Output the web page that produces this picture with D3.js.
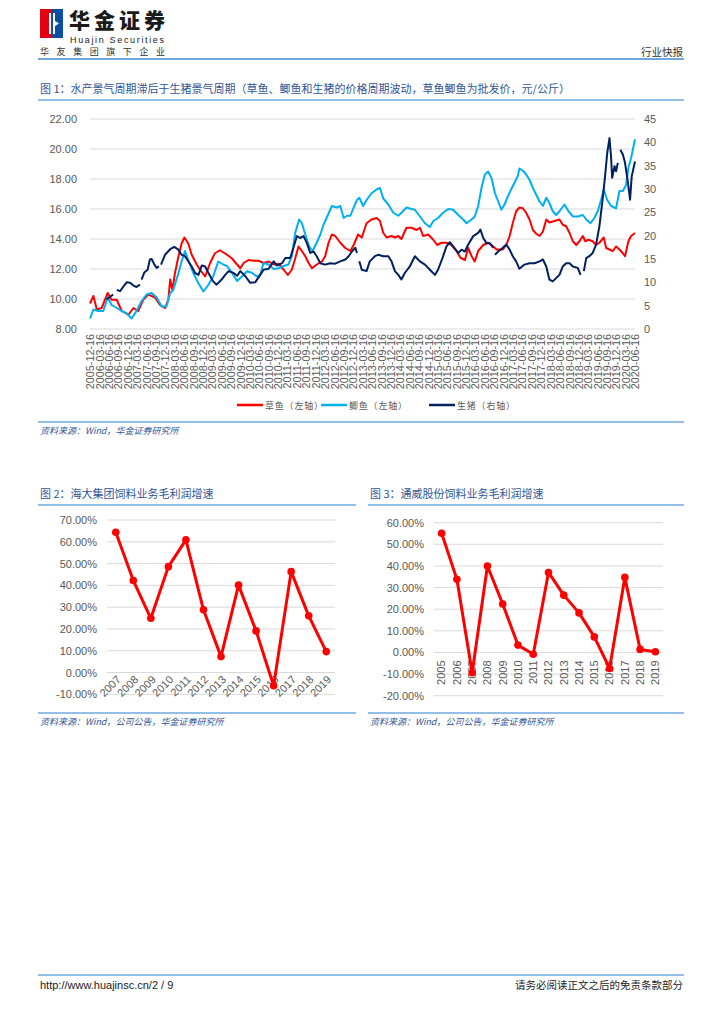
<!DOCTYPE html>
<html>
<head>
<meta charset="utf-8">
<script src="https://cdn.jsdelivr.net/npm/d3@7/dist/d3.min.js"></script>
<style>
  body { margin: 0; background: #fff; }
  svg { display: block; }
  text { font-family: "Liberation Sans", "Noto Sans CJK SC", sans-serif; }
  .cjk { font-family: "Noto Sans CJK SC", sans-serif; }
</style>
</head>
<body>
<svg id="page" width="724" height="1024"></svg>
<script>
// ---- chart 1 data: weekly prices (null = gap in series)
var grassCarp = [
  ["2005-12-16",9.7],["2006-01-18",10.2],["2006-02-20",9.3],["2006-04-08",9.4],["2006-06-06",10.4],["2006-07-14",9.95],
  ["2006-09-02",9.95],["2006-10-20",9.2],["2006-12-24",8.95],["2007-02-11",9.4],["2007-03-29",9.2],["2007-05-17",9.95],
  ["2007-07-05",10.3],["2007-09-09",10.1],["2007-10-27",9.6],["2007-12-15",9.4],["2008-01-16",9.95],["2008-02-03",11.3],
  ["2008-02-25",10.6],["2008-03-20",11.7],["2008-04-22",12.8],["2008-05-24",13.7],["2008-06-20",14.1],["2008-07-28",13.7],
  ["2008-08-30",12.95],["2008-10-18",12.3],["2008-11-20",11.95],["2009-01-08",11.5],["2009-02-25",12.4],["2009-04-13",13.05],
  ["2009-06-01",13.25],["2009-08-08",12.95],["2009-09-26",12.7],["2009-11-14",12.3],["2009-12-16",12.05],["2010-01-17",12.4],
  ["2010-03-05",12.6],["2010-04-23",12.55],["2010-06-11",12.55],["2010-07-29",12.4],["2010-09-17",12.5],["2010-11-05",12.3],
  ["2010-12-23",12.35],["2011-02-10",11.95],["2011-03-22",11.6],["2011-04-30",11.95],["2011-06-02",12.7],["2011-07-04",13.5],
  ["2011-08-06",13.2],["2011-09-08",12.85],["2011-10-10",12.4],["2011-11-12",12.05],["2011-12-28",12.3],["2012-02-17",12.5],
  ["2012-03-19",12.85],["2012-04-21",13.75],["2012-05-23",14.3],["2012-06-25",14.2],["2012-08-13",13.75],["2012-10-01",13.4],
  ["2012-11-19",13.2],["2012-12-21",13.6],["2013-02-02",14.3],["2013-03-10",14.1],["2013-04-25",15.05],["2013-06-13",15.3],
  ["2013-08-01",15.4],["2013-09-03",15.2],["2013-10-05",14.4],["2013-11-07",14.1],["2013-12-24",14.2],["2014-01-26",14.1],
  ["2014-02-28",14.2],["2014-03-30",14.0],["2014-05-18",14.75],["2014-07-06",14.75],["2014-08-24",14.6],["2014-09-26",14.75],
  ["2014-10-28",14.2],["2014-12-15",14.3],["2015-02-03",13.95],["2015-03-12",13.6],["2015-04-23",13.75],["2015-06-11",13.75],
  ["2015-07-29",13.6],["2015-09-17",13.2],["2015-10-25",12.75],["2015-12-07",12.6],["2016-01-08",13.4],["2016-02-10",12.85],
  ["2016-03-12",12.5],["2016-04-14",13.2],["2016-06-02",13.6],["2016-07-20",13.75],["2016-09-08",13.5],["2016-10-10",13.3],
  ["2016-12-10",13.3],["2017-01-12",13.6],["2017-02-14",14.2],["2017-03-16",15.05],["2017-04-18",15.85],["2017-05-20",16.1],
  ["2017-06-22",16.05],["2017-07-24",15.75],["2017-08-26",15.3],["2017-09-28",14.6],["2017-10-30",14.35],["2017-12-02",14.2],
  ["2018-01-03",14.5],["2018-02-05",15.3],["2018-03-07",15.1],["2018-04-25",15.2],["2018-06-13",15.3],["2018-07-15",14.95],
  ["2018-08-17",14.85],["2018-09-19",14.4],["2018-10-21",13.85],["2018-11-23",13.6],["2018-12-24",13.85],["2019-01-26",14.2],
  ["2019-02-19",13.85],["2019-03-20",13.95],["2019-05-02",13.85],["2019-06-04",13.6],["2019-07-06",13.75],["2019-08-17",14.1],
  ["2019-09-10",13.4],["2019-10-12",13.3],["2019-11-14",13.2],["2019-12-15",13.5],["2020-01-17",13.3],["2020-02-19",13.05],
  ["2020-03-11",12.85],["2020-04-13",13.85],["2020-05-09",14.2],["2020-06-16",14.4]
];
var crucianCarp = [
  ["2005-12-16",8.7],["2006-01-18",9.3],["2006-03-06",9.2],["2006-04-24",9.2],["2006-06-06",10.1],["2006-07-14",9.6],
  ["2006-09-02",9.4],["2006-10-20",9.2],["2006-12-07",9.05],["2007-01-25",8.7],["2007-03-13",9.2],["2007-05-01",9.85],
  ["2007-06-19",10.3],["2007-08-07",10.4],["2007-09-25",10.1],["2007-11-12",9.5],["2007-12-29",9.5],["2008-02-03",10.4],
  ["2008-03-04",10.6],["2008-04-22",11.7],["2008-05-24",12.5],["2008-06-26",13.2],["2008-07-28",12.6],["2008-09-16",11.7],
  ["2008-11-04",11.05],["2008-12-22",10.5],["2009-02-09",10.95],["2009-03-27",11.5],["2009-05-15",12.5],["2009-07-03",12.3],
  ["2009-08-08",12.2],["2009-09-26",11.75],["2009-11-14",11.2],["2010-01-01",11.5],["2010-02-19",11.85],["2010-04-07",11.75],
  ["2010-05-25",11.5],["2010-06-27",11.6],["2010-07-29",12.4],["2010-09-17",12.3],["2010-11-05",12.0],["2010-12-23",12.05],
  ["2011-02-10",12.2],["2011-03-28",12.3],["2011-04-30",12.85],["2011-06-02",14.4],["2011-07-10",15.3],["2011-08-06",15.05],
  ["2011-09-08",14.3],["2011-10-16",13.5],["2011-11-18",13.2],["2011-12-28",13.75],["2012-02-01",14.3],["2012-03-03",14.95],
  ["2012-04-15",15.6],["2012-05-23",16.2],["2012-07-11",16.1],["2012-08-13",16.2],["2012-09-15",15.4],["2012-10-17",15.55],
  ["2012-11-19",15.55],["2012-12-21",16.1],["2013-01-22",16.6],["2013-02-14",16.75],["2013-03-10",16.4],["2013-03-23",16.2],
  ["2013-04-25",16.6],["2013-06-13",17.05],["2013-08-01",17.3],["2013-09-03",17.4],["2013-10-05",16.7],["2013-11-23",16.3],
  ["2014-01-10",15.75],["2014-02-28",15.55],["2014-03-30",15.75],["2014-05-18",16.1],["2014-07-06",16.0],["2014-08-08",15.95],
  ["2014-09-26",15.5],["2014-11-14",15.05],["2015-01-01",14.8],["2015-02-03",15.2],["2015-03-21",15.4],["2015-05-09",15.75],
  ["2015-06-27",16.0],["2015-08-15",15.95],["2015-10-03",15.6],["2015-11-21",15.3],["2015-12-23",15.05],["2016-02-10",15.3],
  ["2016-03-12",15.5],["2016-04-14",16.2],["2016-05-16",17.4],["2016-06-18",18.3],["2016-07-20",18.5],["2016-08-22",18.05],
  ["2016-09-24",17.05],["2016-10-26",16.5],["2016-11-25",15.95],["2016-12-26",16.3],["2017-01-28",16.85],["2017-02-28",17.3],
  ["2017-04-02",17.75],["2017-05-04",18.2],["2017-05-20",18.7],["2017-06-22",18.55],["2017-07-24",18.3],["2017-08-26",17.95],
  ["2017-09-28",17.4],["2017-10-30",16.95],["2017-12-02",16.5],["2018-01-03",16.2],["2018-02-05",16.75],["2018-03-07",16.4],
  ["2018-04-09",15.85],["2018-05-11",15.6],["2018-06-13",15.85],["2018-08-01",16.3],["2018-09-09",15.85],["2018-10-21",15.5],
  ["2018-12-08",15.5],["2019-01-26",15.6],["2019-02-28",15.3],["2019-04-10",15.05],["2019-05-18",15.4],["2019-06-20",15.85],
  ["2019-07-22",16.6],["2019-08-17",17.3],["2019-09-20",16.6],["2019-10-28",16.2],["2019-12-15",16.05],["2020-01-17",17.2],
  ["2020-02-19",17.2],["2020-03-21",17.6],["2020-04-13",18.75],["2020-05-09",19.4],["2020-06-16",20.65]
];
var hog = [
  ["2006-05-26",6.3],["2006-06-28",6.9],["2006-07-30",7.4],["2006-08-15",null],["2006-09-02",8.4],["2006-10-04",8.1],
  ["2006-11-06",9.1],["2006-12-07",10.0],["2007-01-10",9.9],["2007-02-11",9.3],["2007-03-13",9.0],["2007-04-15",9.5],
  ["2007-04-22",null],["2007-05-01",10.6],["2007-05-27",12.1],["2007-06-29",12.7],["2007-07-21",14.9],["2007-08-07",15.0],
  ["2007-09-03",13.8],["2007-09-25",13.1],["2007-10-17",13.4],["2007-10-25",null],["2007-11-06",13.8],["2007-12-15",15.9],
  ["2008-02-03",17.1],["2008-03-14",17.6],["2008-04-22",17.0],["2008-05-24",15.9],["2008-06-26",15.6],["2008-07-28",14.5],
  ["2008-08-30",13.4],["2008-10-02",12.0],["2008-11-04",11.6],["2008-12-06",13.6],["2009-01-08",13.4],["2009-02-09",12.0],
  ["2009-03-27",10.2],["2009-04-29",9.5],["2009-06-17",10.6],["2009-07-22",11.6],["2009-08-24",12.4],["2009-10-12",12.0],
  ["2009-11-14",11.4],["2009-12-16",12.4],["2010-02-03",11.3],["2010-03-22",9.9],["2010-05-09",10.0],["2010-06-27",11.6],
  ["2010-07-29",12.7],["2010-09-17",12.9],["2010-11-05",14.5],["2010-12-07",13.6],["2011-01-25",14.1],["2011-02-26",15.2],
  ["2011-04-14",15.2],["2011-05-16",17.4],["2011-06-18",19.9],["2011-07-20",19.5],["2011-08-22",19.9],["2011-09-24",18.4],
  ["2011-10-26",16.3],["2011-11-28",16.6],["2011-12-28",15.6],["2012-02-01",14.1],["2012-03-19",13.8],["2012-05-07",14.1],
  ["2012-06-25",14.0],["2012-08-13",14.5],["2012-10-01",14.9],["2012-11-03",15.6],["2012-12-04",16.6],["2013-01-07",17.4],
  ["2013-01-22",16.3],["2013-02-01",null],["2013-02-14",14.5],["2013-03-10",12.7],["2013-04-25",12.4],["2013-05-27",14.5],
  ["2013-07-15",15.6],["2013-08-17",15.9],["2013-10-05",15.6],["2013-11-23",15.6],["2013-12-24",14.5],["2014-01-26",12.4],
  ["2014-02-28",11.6],["2014-03-30",10.6],["2014-05-02",12.0],["2014-06-20",13.4],["2014-08-08",15.6],["2014-09-26",14.5],
  ["2014-11-14",13.8],["2015-01-01",12.7],["2015-02-19",11.6],["2015-03-21",12.7],["2015-05-03",15.2],["2015-06-11",17.7],
  ["2015-07-13",18.6],["2015-08-15",17.7],["2015-10-03",16.3],["2015-11-05",17.0],["2015-12-07",16.6],["2016-01-08",18.1],
  ["2016-02-26",19.9],["2016-04-14",20.6],["2016-05-06",21.3],["2016-06-02",19.5],["2016-07-04",18.4],["2016-08-05",18.4],
  ["2016-09-08",17.4],["2016-09-16",null],["2016-09-24",15.9],["2016-10-26",16.6],["2016-12-10",17.4],["2017-01-12",18.1],
  ["2017-02-14",17.0],["2017-03-16",15.6],["2017-04-18",14.5],["2017-05-20",12.9],["2017-07-08",13.8],["2017-08-26",14.1],
  ["2017-10-14",14.1],["2017-12-02",14.5],["2018-01-03",14.9],["2018-02-05",13.4],["2018-03-07",10.6],["2018-04-09",10.2],
  ["2018-05-11",10.9],["2018-06-13",11.6],["2018-07-15",13.4],["2018-08-17",14.1],["2018-09-19",14.1],["2018-10-21",13.4],
  ["2018-12-08",13.1],["2019-01-04",11.6],["2019-01-20",null],["2019-02-05",12.4],["2019-02-28",15.2],["2019-03-30",15.6],
  ["2019-05-02",16.3],["2019-06-04",18.1],["2019-07-06",22.0],["2019-08-08",28.1],["2019-08-30",32.7],["2019-09-20",37.7],
  ["2019-10-12",40.9],["2019-10-27",37.0],["2019-11-07",32.4],["2019-11-30",34.9],["2019-12-15",33.8],["2020-01-01",35.6],
  ["2020-01-12",null],["2020-01-26",38.4],["2020-02-19",37.4],["2020-03-11",35.6],["2020-04-07",31.6],["2020-04-29",27.7],
  ["2020-05-15",32.7],["2020-06-16",35.9]
];
var leftTicks = [8, 10, 12, 14, 16, 18, 20, 22];
var rightTicks = [0, 5, 10, 15, 20, 25, 30, 35, 40, 45];
var seriesNames = ["草鱼（左轴）", "鲫鱼（左轴）", "生猪（右轴）"];

// ---- chart 2 / chart 3 data (%)
var haidaYears = ["2007","2008","2009","2010","2011","2012","2013","2014","2015","2016","2017","2018","2019"];
var haidaGrowth = [64.4, 42.2, 24.9, 48.6, 60.9, 28.8, 7.3, 40.1, 19.1, -6.1, 46.3, 26.0, 9.6];
var haidaTicks = [-10, 0, 10, 20, 30, 40, 50, 60, 70];
var tongweiYears = ["2005","2006","2007","2008","2009","2010","2011","2012","2013","2014","2015","2016","2017","2018","2019"];
var tongweiGrowth = [55.1, 33.8, -9.4, 40.0, 22.4, 3.4, -0.8, 37.0, 26.5, 18.3, 7.2, -7.4, 34.7, 1.4, 0.3];
var tongweiTicks = [-20, -10, 0, 10, 20, 30, 40, 50, 60];

var parseDate = d3.timeParse("%Y-%m-%d");
var xStart = parseDate("2005-12-16");
var xTickDates = d3.range(59).map(function(i) { return d3.timeMonth.offset(xStart, 3 * i); });

var blue = "#2F5597", rule = "#6FA8DC", grid = "#D9D9D9", gray = "#595959";
var svg = d3.select("#page");

// ---- page header
var logo = svg.append("g");
logo.append("rect").attr("x", 40).attr("y", 9).attr("width", 12).attr("height", 29).attr("fill", "#E60012");
logo.append("rect").attr("x", 52).attr("y", 9).attr("width", 11).attr("height", 29).attr("fill", "#0B4EA2");
logo.append("rect").attr("x", 49).attr("y", 13).attr("width", 2).attr("height", 21).attr("fill", "#fff");
logo.append("path").attr("d", "M53,13 L55,13 L55,21 L59,23.5 L55,26 L55,34 L53,34 Z").attr("fill", "#fff");
svg.append("text").attr("class", "cjk").attr("x", 69).attr("y", 28).attr("font-size", 21).attr("font-weight", 900)
  .attr("fill", "#1a1a1a").attr("textLength", 96).text("华金证券");
svg.append("text").attr("x", 70).attr("y", 42.5).attr("font-size", 9).attr("fill", "#1a1a1a")
  .attr("textLength", 94).text("Huajin Securities");
svg.append("text").attr("class", "cjk").attr("x", 40).attr("y", 55).attr("font-size", 9).attr("fill", "#333")
  .attr("textLength", 125).attr("lengthAdjust", "spacing").text("华友集团旗下企业");
svg.append("text").attr("class", "cjk").attr("x", 683).attr("y", 56).attr("font-size", 10.5).attr("fill", "#333")
  .attr("text-anchor", "end").text("行业快报");
svg.append("line").attr("x1", 38).attr("x2", 684).attr("y1", 59).attr("y2", 59).attr("stroke", rule).attr("stroke-width", 2);

function titleBlock(x1, x2, y, label) {
  svg.append("text").attr("class", "cjk").attr("x", x1 + 2).attr("y", y).attr("font-size", 11)
    .attr("fill", blue).text(label);
  svg.append("line").attr("x1", x1).attr("x2", x2).attr("y1", y + 7).attr("y2", y + 7)
    .attr("stroke", rule).attr("stroke-width", 1.5);
}
function sourceBlock(x1, x2, y, label) {
  svg.append("line").attr("x1", x1).attr("x2", x2).attr("y1", y).attr("y2", y)
    .attr("stroke", rule).attr("stroke-width", 1.5);
  svg.append("text").attr("class", "cjk").attr("x", x1 + 2).attr("y", y + 12).attr("font-size", 9)
    .attr("font-style", "italic").attr("fill", blue).text(label);
}

// ---- chart 1
titleBlock(38, 684, 93, "图 1：水产景气周期滞后于生猪景气周期（草鱼、鲫鱼和生猪的价格周期波动，草鱼鲫鱼为批发价，元/公斤）");

var x1 = d3.scaleTime().domain([xStart, parseDate("2020-06-16")]).range([90, 635]);
var yL = d3.scaleLinear().domain([8, 22]).range([329, 119]);
var yR = d3.scaleLinear().domain([0, 45]).range([329, 119]);
var c1 = svg.append("g");

c1.selectAll(".grid").data(leftTicks).enter().append("line")
  .attr("x1", 90).attr("x2", 635).attr("y1", function(d) { return yL(d); }).attr("y2", function(d) { return yL(d); })
  .attr("stroke", grid).attr("stroke-width", 1);

var axL = c1.append("g").attr("transform", "translate(90,0)")
  .call(d3.axisLeft(yL).tickValues(leftTicks).tickFormat(d3.format(".2f")).tickSize(0).tickPadding(13));
var axR = c1.append("g").attr("transform", "translate(635,0)")
  .call(d3.axisRight(yR).tickValues(rightTicks).tickSize(0).tickPadding(9));
[axL, axR].forEach(function(a) {
  a.select(".domain").remove();
  a.selectAll("text").attr("font-size", 11).attr("fill", gray).attr("font-family", "Liberation Sans, sans-serif");
});

var axX = c1.append("g").attr("transform", "translate(0,331)")
  .call(d3.axisBottom(x1).tickValues(xTickDates).tickFormat(d3.timeFormat("%Y-%m-%d")).tickSize(0));
axX.select(".domain").remove();
axX.selectAll("text").attr("transform", "rotate(-90)").attr("x", -3).attr("y", 0).attr("dy", "0.35em")
  .style("text-anchor", "end").attr("font-size", 10.8).attr("fill", gray).attr("font-family", "Liberation Sans, sans-serif");

function priceLine(yScale) {
  return d3.line()
    .defined(function(d) { return d[1] != null; })
    .x(function(d) { return x1(parseDate(d[0])); })
    .y(function(d) { return yScale(d[1]); });
}
var series1 = [
  {data: grassCarp, y: yL, color: "#FF0000"},
  {data: crucianCarp, y: yL, color: "#00B0F0"},
  {data: hog, y: yR, color: "#002060"}
];
series1.forEach(function(s) {
  c1.append("path").datum(s.data).attr("d", priceLine(s.y))
    .attr("fill", "none").attr("stroke", s.color).attr("stroke-width", 2).attr("stroke-linejoin", "round");
});

var legendX = [237, 321, 429];
series1.forEach(function(s, i) {
  c1.append("line").attr("x1", legendX[i]).attr("x2", legendX[i] + 26).attr("y1", 405).attr("y2", 405)
    .attr("stroke", s.color).attr("stroke-width", 2.5);
  c1.append("text").attr("class", "cjk").attr("x", legendX[i] + 28).attr("y", 408.5).attr("font-size", 9)
    .attr("fill", gray).attr("letter-spacing", 0.8).text(seriesNames[i]);
});
sourceBlock(38, 684, 422, "资料来源：Wind，华金证券研究所");

// ---- chart 2 / chart 3
function growthChart(opt) {
  var g = svg.append("g");
  var x = d3.scaleBand().domain(opt.years).range([opt.left, opt.right]);
  var y = d3.scaleLinear().domain(opt.domain).range([opt.bottom, opt.top]);
  var cx = function(d) { return x(d) + x.bandwidth() / 2; };

  g.selectAll(".grid").data(opt.ticks).enter().append("line")
    .attr("x1", opt.left).attr("x2", opt.right)
    .attr("y1", function(d) { return y(d); }).attr("y2", function(d) { return y(d); })
    .attr("stroke", grid).attr("stroke-width", 1);

  var ay = g.append("g").attr("transform", "translate(" + opt.left + ",0)")
    .call(d3.axisLeft(y).tickValues(opt.ticks).tickFormat(function(d) { return d.toFixed(2) + "%"; })
      .tickSize(0).tickPadding(10));
  ay.select(".domain").remove();
  ay.selectAll("text").attr("font-size", 11).attr("fill", gray).attr("font-family", "Liberation Sans, sans-serif");

  g.selectAll(".xl").data(opt.years).enter().append("text")
    .attr("transform", function(d) { return "translate(" + (cx(d) + opt.labelDx) + "," + (y(0) + opt.labelDy) + ") rotate(" + opt.rotate + ")"; })
    .attr("text-anchor", "end").attr("dy", "0.35em")
    .attr("font-size", 11).attr("fill", gray).text(function(d) { return d; });

  var pts = opt.years.map(function(d, i) { return [d, opt.values[i]]; });
  g.append("path").datum(pts)
    .attr("d", d3.line().x(function(d) { return cx(d[0]); }).y(function(d) { return y(d[1]); }))
    .attr("fill", "none").attr("stroke", "#FF0000").attr("stroke-width", 3).attr("stroke-linejoin", "round");
  g.selectAll(".dot").data(pts).enter().append("circle")
    .attr("cx", function(d) { return cx(d[0]); }).attr("cy", function(d) { return y(d[1]); })
    .attr("r", 3.8).attr("fill", "#FF0000");
}

titleBlock(38, 356, 498, "图 2：海大集团饲料业务毛利润增速");
growthChart({years: haidaYears, values: haidaGrowth, ticks: haidaTicks, domain: [-10, 70],
  left: 107, right: 335, top: 520, bottom: 694.3, rotate: -45, labelDx: 3, labelDy: 5});
sourceBlock(38, 356, 713, "资料来源：Wind，公司公告，华金证券研究所");

titleBlock(368, 684, 498, "图 3：通威股份饲料业务毛利润增速");
growthChart({years: tongweiYears, values: tongweiGrowth, ticks: tongweiTicks, domain: [-20, 60],
  left: 434, right: 663, top: 522.7, bottom: 695.7, rotate: -90, labelDx: 0, labelDy: 8});
sourceBlock(368, 684, 713, "资料来源：Wind，公司公告，华金证券研究所");

// ---- footer
svg.append("line").attr("x1", 38).attr("x2", 684).attr("y1", 975).attr("y2", 975).attr("stroke", rule).attr("stroke-width", 1.5);
svg.append("text").attr("x", 40).attr("y", 989).attr("font-size", 11).attr("fill", "#222").text("http://www.huajinsc.cn/2 / 9");
svg.append("text").attr("class", "cjk").attr("x", 683).attr("y", 989).attr("font-size", 10.5).attr("fill", "#222")
  .attr("text-anchor", "end").text("请务必阅读正文之后的免责条款部分");
</script>
</body>
</html>
